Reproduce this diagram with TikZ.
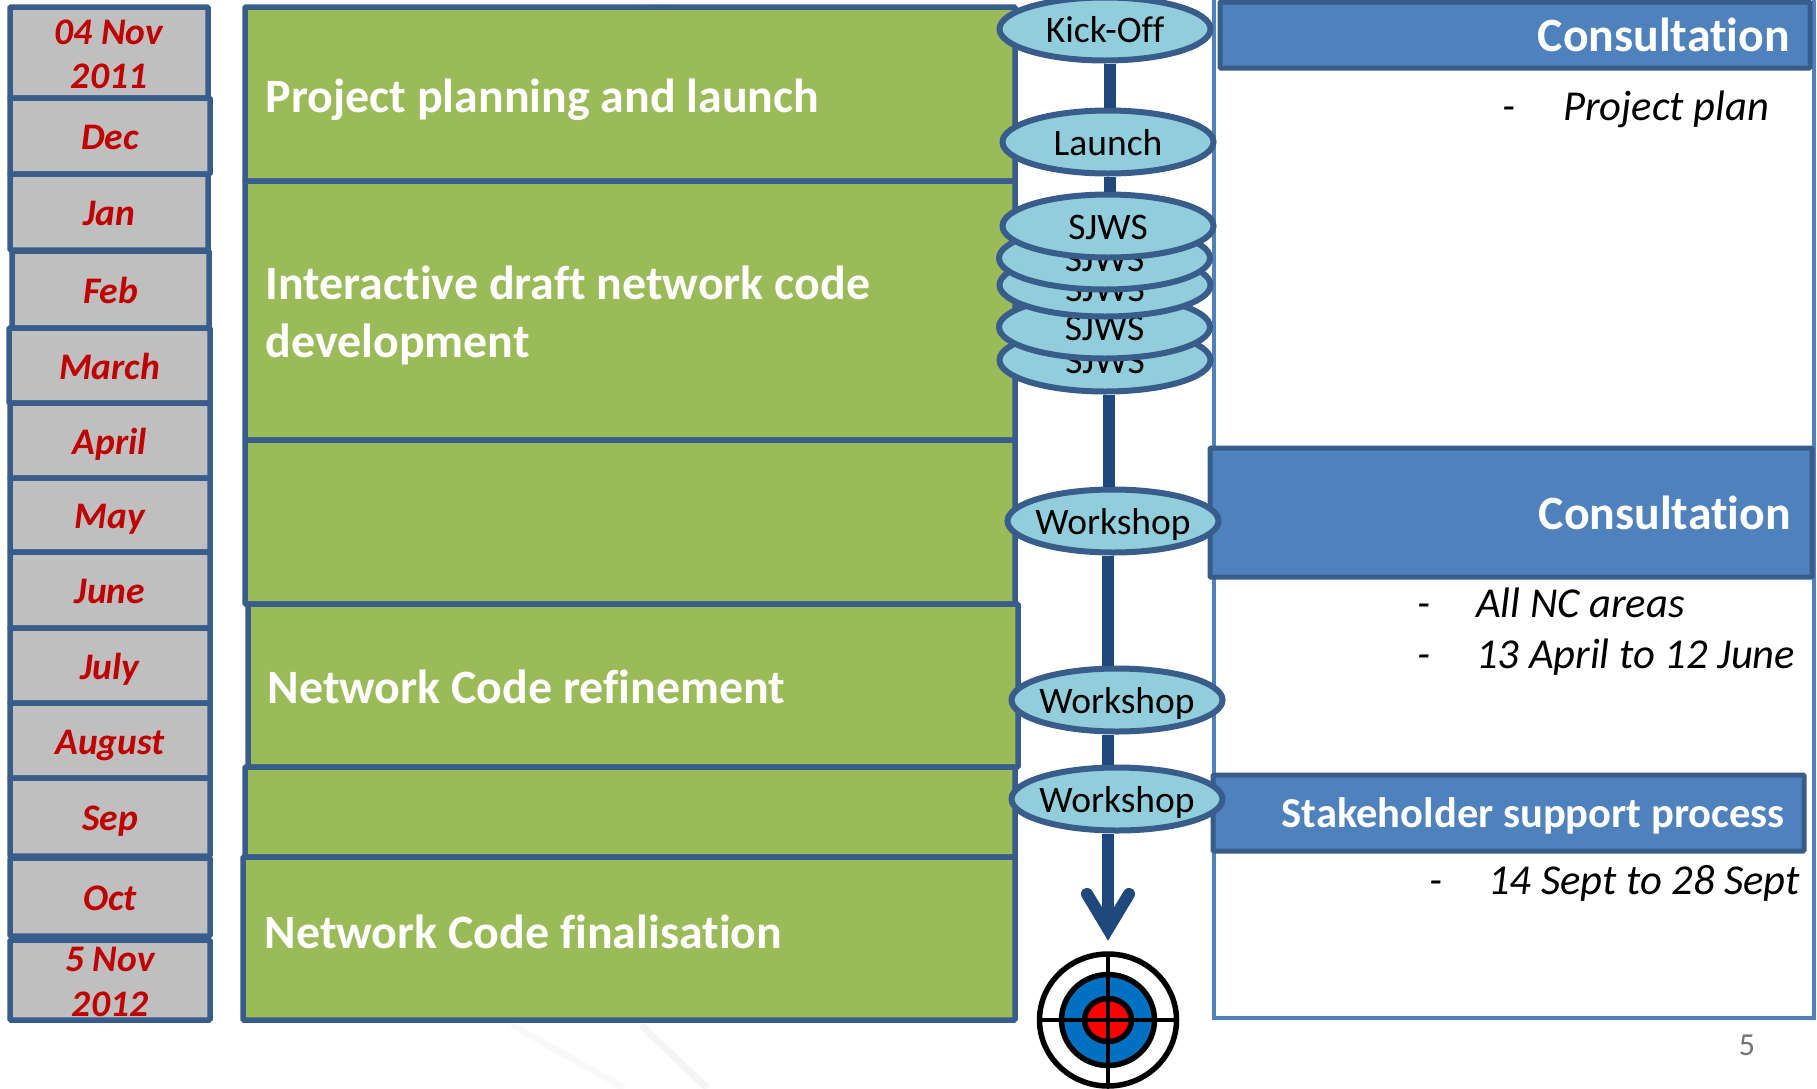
\documentclass[tikz,border=0pt]{standalone}
\usepackage{fontspec}
\setmainfont{Carlito}[Ligatures=NoCommon]
\usetikzlibrary{shapes.geometric}
\definecolor{edgeblue}{HTML}{385D8A}
\definecolor{headblue}{HTML}{4F81BD}
\definecolor{greenbox}{HTML}{9BBB59}
\definecolor{greybox}{HTML}{BFBFBF}
\definecolor{datered}{HTML}{C00000}
\definecolor{ovalfill}{HTML}{92CDDC}
\definecolor{arrowblue}{HTML}{1F497D}
\definecolor{targetblue}{HTML}{0070C0}
\tikzset{
 x=1pt,y=-1pt,
 datebox/.style={draw=edgeblue,fill=greybox,line width=5.5pt,rounded corners=1pt},
 datetext/.style={inner sep=0pt,text=datered,font=\fontsize{37.5}{44.5}\selectfont\bfseries\itshape,align=center},
 phasebox/.style={draw=edgeblue,fill=greenbox,line width=5.5pt,rounded corners=1pt},
 phasetext/.style={inner sep=0pt,anchor=west,text=white,font=\fontsize{47.9}{58}\selectfont\bfseries,align=left},
 oval/.style={draw=edgeblue,fill=ovalfill,line width=6pt,ellipse,minimum width=211pt,minimum height=63pt,inner xsep=-12pt,inner ysep=-8pt,text height=32pt,text depth=5pt,font=\fontsize{37.5}{40}\selectfont},
 headbox/.style={draw=edgeblue,fill=headblue,line width=5pt,rounded corners=1pt},
 headtext/.style={inner sep=0pt,anchor=east,text=white,font=\fontsize{47.8}{50}\selectfont\bfseries},
 note/.style={inner sep=0pt,anchor=base west,font=\fontsize{42.6}{48}\selectfont\itshape},
 link/.style={draw=arrowblue,line width=12pt},
 ring/.style={draw=black,line width=5.5pt},
}
\begin{document}
\begin{tikzpicture}
\useasboundingbox (0,0) rectangle (1817,1088);
\fill[white] (0,0) rectangle (1817,1088);
% faint watermark
\draw[black!2.5,line width=7pt] (512,1025) -- (624,1088);
\draw[black!4,line width=7pt] (641,1025) -- (707,1088);
\draw[black!2.5,line width=4pt] (640,0) -- (690,8);
% date column
\foreach \nm/\l/\r/\t/\b/\txt in {
 d1/10/208/7/98/{\strut 04 Nov\\\strut 2011},
 d2/10/210/98/174/\strut Dec,
 d3/10/208/174/250/\strut Jan,
 d4/12/209/251/328/\strut Feb,
 d5/9/210/328/403/\strut March,
 d6/10/210/403/478/\strut April,
 d7/10/210/478/552/\strut May,
 d8/10/210/552/628/\strut June,
 d9/10/210/628/703/\strut July,
 d10/10/210/703/778/\strut August,
 d11/10/210/778/856/\strut Sep,
 d12/10/210/858/936/\strut Oct,
 d13/10/210/940/1020/{\strut 5 Nov\\\strut 2012}}{
  \draw[datebox] (\l,\t) rectangle (\r,\b);
  \node[datetext] (\nm) at ({(\l+\r)/2},{(\t+\b)/2+5}) {\txt};
}
% phases
\draw[phasebox] (245,7) rectangle (1015,181);
\draw[phasebox] (245,181) rectangle (1015,440);
\draw[phasebox] (245,440) rectangle (1015,604);
\draw[phasebox] (248,604) rectangle (1018,767);
\draw[phasebox] (245,767) rectangle (1015,857);
\draw[phasebox] (243,857) rectangle (1015,1020);
\node[phasetext] (p1) at (265.5,99.5) {Project planning and launch};
\node[phasetext] (p2) at (265.5,315) {Interactive draft network code\\development};
\node[phasetext] (p3) at (267.5,687) {Network Code refinement};
\node[phasetext] (p4) at (264.5,932) {Network Code finalisation};
% right panel
\draw[draw=headblue,fill=white,line width=4.5pt] (1214,-5) rectangle (1814,1018);
\draw[headbox] (1220,2) rectangle (1810,68);
\draw[headbox] (1210,448) rectangle (1812,577);
\draw[headbox] (1213,775) rectangle (1804,851);
\node[headtext] (c1) at (1790,35) {Consultation};
\node[headtext] (c2) at (1791,513) {Consultation};
\node[headtext,font=\fontsize{42.6}{46}\selectfont\bfseries] (c3) at (1785,816) {Stakeholder support process};
\node[note] (n1a) at (1502,120) {-};
\node[note] (n1) at (1563,120) {Project plan};
\node[note] (n2a) at (1417,617) {-};
\node[note] (n2) at (1476,617) {All NC areas};
\node[note] (n3a) at (1417,668) {-};
\node[note] (n3) at (1476,668) {13 April to 12 June};
\node[note] (n4a) at (1429,894) {-};
\node[note] (n4) at (1488,894) {14 Sept to 28 Sept};
\node[text=black!55,inner sep=0pt,font=\fontsize{32}{34}\selectfont] (pg) at (1747,1045) {5};
% ovals
\node[oval] (kick) at (1105,29) {Kick-Off};
\node[oval] (laun) at (1108,142) {Launch};
\node[oval] (s5) at (1105,360) {SJWS};
\node[oval] (s4) at (1104.5,327) {SJWS};
\node[oval,text height=37pt] (s3) at (1105,285) {SJWS};
\node[oval] (s2) at (1104.5,258) {SJWS};
\node[oval] (s1) at (1108,226) {SJWS};
\node[oval] (w1) at (1113,521) {Workshop};
\node[oval] (w2) at (1117,700) {Workshop};
\node[oval] (w3) at (1117,799) {Workshop};
% links
\draw[link] ([xshift=5pt]kick.south) -- ([xshift=2pt]laun.north);
\draw[link] ([xshift=2pt]laun.south) -- ([xshift=2pt]s1.north);
\draw[link] ([xshift=4pt]s5.south) -- ([xshift=-4pt]w1.north);
\draw[link] ([xshift=-5pt]w1.south) -- ([xshift=-9pt]w2.north);
\draw[link] ([xshift=-9pt]w2.south) -- ([xshift=-9pt]w3.north);
\coordinate (stem) at (1108,929);
\coordinate (barbl) at (1087,894);
\coordinate (barbr) at (1129,894);
\draw[link] ([xshift=-9pt]w3.south) -- (stem);
\draw[link,line cap=round,line join=miter,miter limit=10] (barbl) -- (stem) -- (barbr);
% target
\draw[ring] (1108,1020) ellipse (68.5 and 66);
\draw[ring,fill=targetblue] (1108,1020) ellipse (46.5 and 45.5);
\draw[ring,fill=red] (1108,1020) ellipse (23.5 and 21.5);
\draw[black,line width=3.5pt] (1108,952) -- (1108,1088) (1039,1020) -- (1177,1020);
\end{tikzpicture}
\end{document}
